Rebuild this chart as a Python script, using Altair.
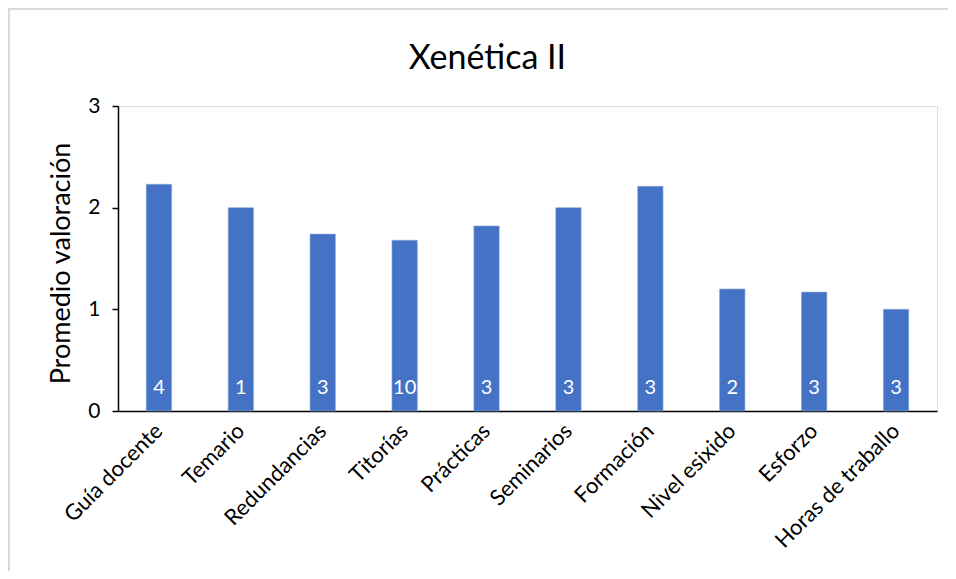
import altair as alt
import pandas as pd

categories = ["Guía docente", "Temario", "Redundancias", "Titorías", "Prácticas",
              "Seminarios", "Formación", "Nivel esixido", "Esforzo", "Horas de traballo"]
values = [2.23, 2.0, 1.74, 1.68, 1.82, 2.0, 2.21, 1.2, 1.17, 1.0]
counts = [4, 1, 3, 10, 3, 3, 3, 2, 3, 3]

df = pd.DataFrame({"cat": categories, "val": values, "n": counts})

FONT = "Lato"
W, H = 819, 305

x = alt.X("cat:N", sort=categories, title=None,
          scale=alt.Scale(paddingInner=0.69, paddingOuter=0.345),
          axis=alt.Axis(labelAngle=315, labelFontSize=22, labelColor="#000000",
                        labelFont=FONT, ticks=False, labelPadding=16,
                        domainColor="#000000", domainWidth=1.5,
                        labelAlign="right", labelBaseline="middle"))

y = alt.Y("val:Q", title="Promedio valoración",
          scale=alt.Scale(domain=[0, 3]),
          axis=alt.Axis(values=[0, 1, 2, 3], format="d", grid=False,
                        tickColor="#000000", tickSize=6, tickWidth=1.5,
                        domainColor="#000000", domainWidth=1.5,
                        labelFontSize=21, labelColor="#000000", labelFont=FONT,
                        labelPadding=12,
                        titleFontSize=27, titleFont=FONT, titleColor="#000000",
                        titleFontWeight="normal", titleX=-57, titleY=157,
                        titleAlign="center", titleBaseline="middle", titleAngle=270))

bars = alt.Chart(df).mark_bar(color="#4472C4", stroke="#8FAADC", strokeWidth=0.6).encode(
    x=x, y=y)

labels = alt.Chart(df).mark_text(color="white", fontSize=20, font=FONT,
                                 baseline="alphabetic", dy=-17).encode(
    x=alt.X("cat:N", sort=categories),
    y=alt.datum(0),
    text="n:Q")

frame_top = alt.Chart(df).mark_rule(stroke="#D9D9D9", strokeWidth=1.5).encode(
    x=alt.value(-109.5), x2=alt.value(830), y=alt.value(-97.5))
frame_left = alt.Chart(df).mark_rule(stroke="#D9D9D9", strokeWidth=1.5).encode(
    x=alt.value(-109.5), y=alt.value(-97.5), y2=alt.value(470))

chart = alt.layer(frame_top, frame_left, bars, labels).properties(
    width=W, height=H,
    autosize=alt.AutoSizeParams(type="none"),
    padding={"left": 110, "top": 98, "right": 11, "bottom": 160},
    title=alt.TitleParams("Xenética II", fontSize=34, font=FONT, fontWeight="normal",
                          color="#000000", anchor="middle", frame="group",
                          baseline="alphabetic", dx=-40, offset=-95),
).configure_view(stroke=None).configure(background="white")

chart.save("out.html", embed_options={"renderer": "svg", "actions": False})
